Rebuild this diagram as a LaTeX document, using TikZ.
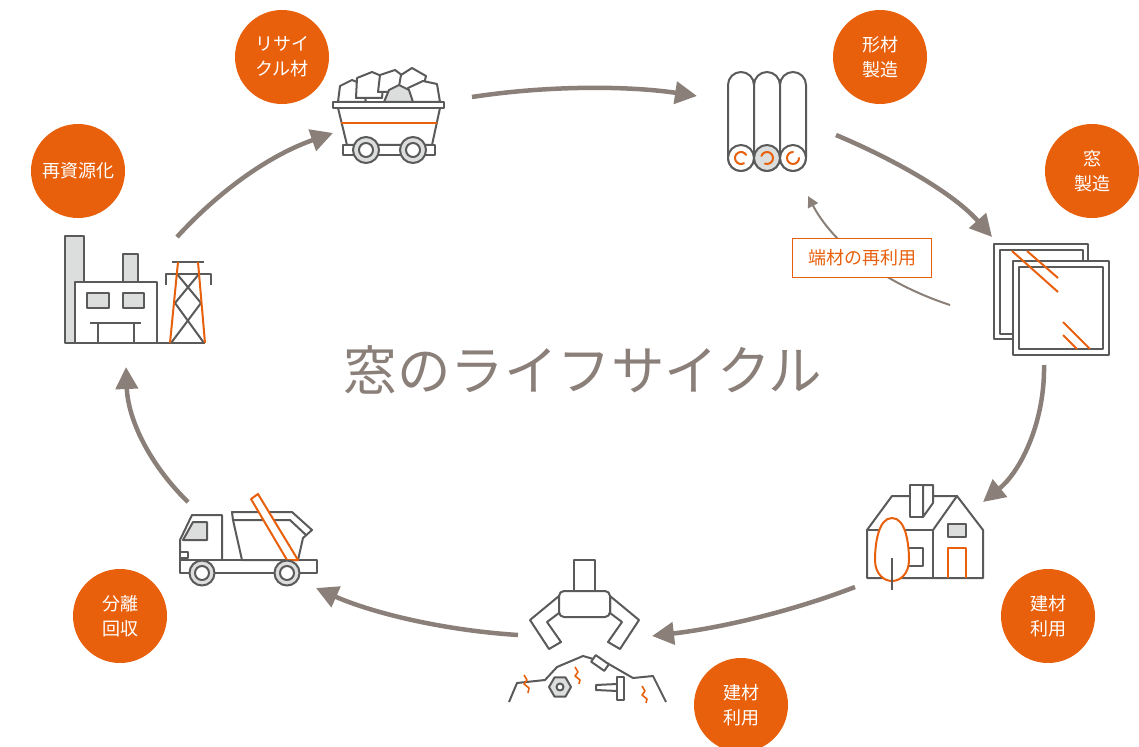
\documentclass[tikz,border=0pt]{standalone}
\usepackage{fontspec}
\newfontfamily\jp{Noto Sans CJK JP}
\usetikzlibrary{arrows.meta}
\definecolor{accent}{HTML}{E8600C}
\definecolor{flow}{HTML}{8B8079}
\definecolor{ink}{HTML}{5A5A5A}
\definecolor{shade}{HTML}{DCDDDD}
\tikzset{
  badge/.style={circle,fill=accent,minimum size=94pt,inner sep=0pt,text=white,
    font=\jp\fontsize{18}{25}\selectfont,align=center},
  cycleflow/.style={draw=flow,line width=4.5pt,-{Triangle[length=22pt,width=22pt]}},
  thinflow/.style={draw=flow,line width=2pt,-{Triangle[length=11pt,width=11pt]}},
  icon/.style={draw=ink,line width=2pt,line join=round},
  hot/.style={draw=accent,line width=2pt,line join=round},
}
\begin{document}
\begin{tikzpicture}[x=1pt,y=-1pt]
\clip (0,0) rectangle (1139,746);
\fill[white] (0,0) rectangle (1139,746);

% ---------- mine cart with scrap ----------
\begin{scope}
  \draw[icon,fill=white] (338,102) -- (340,86) -- (352,80) -- (362,84) -- (366,102) -- cycle;
  \draw[icon,fill=white] (356,98) -- (357,78) -- (372,72) -- (384,77) -- (382,98) -- cycle;
  \draw[icon,fill=white] (378,92) -- (380,75) -- (395,70) -- (403,76) -- (400,92) -- cycle;
  \draw[icon,fill=white] (398,92) -- (401,75) -- (412,68) -- (426,76) -- (422,92) -- cycle;
  \draw[icon,fill=white] (406,102) -- (408,88) -- (423,81) -- (437,84) -- (440,102) -- cycle;
  \draw[icon,fill=shade] (384,102) -- (389,90) -- (399,85) -- (409,90) -- (413,102) -- cycle;
  \draw[icon,fill=white] (338,108) -- (440,108) -- (432,145) -- (347,145) -- cycle;
  \draw[icon,fill=white] (333,102) rectangle (444,108);
  \draw[hot] (341,123) -- (437,123);
  \draw[icon,fill=white] (343,145) rectangle (435,155);
  \foreach \cx in {366,413}{
    \draw[icon,fill=shade] (\cx,150) circle (13);
    \draw[icon,fill=white] (\cx,150) circle (7);
  }
\end{scope}

% ---------- three extruded profiles ----------
\begin{scope}
  \foreach \cx in {741,767,793}{
    \draw[icon,fill=white,rounded corners=13pt] (\cx-13,72) rectangle (\cx+13,171);
  }
  \draw[icon,fill=white] (741,158) circle (13);
  \draw[icon,fill=shade] (767,158) circle (13);
  \draw[icon,fill=white] (793,158) circle (13);
  \draw[hot,line cap=round] (741,158) ++(60:6) arc[start angle=60,end angle=330,radius=6];
  \draw[hot,line cap=round] (767,158) ++(200:6) arc[start angle=200,end angle=470,radius=6];
  \draw[hot,line cap=round] (793,158) ++(0:6) arc[start angle=0,end angle=270,radius=6];
\end{scope}

% ---------- window frames ----------
\begin{scope}
  \draw[icon,fill=white,line width=1.6pt] (994,244) rectangle (1088,339);
  \draw[icon,line width=2.2pt] (1000,250) rectangle (1083,334);
  \draw[icon,fill=white,line width=1.6pt] (1013,261) rectangle (1109,355);
  \draw[icon,line width=2.2pt] (1019,267) rectangle (1103,349);
  \draw[hot] (1012,251) -- (1058,292);
  \draw[hot] (1027,251) -- (1058,278);
  \draw[hot] (1063,322) -- (1090,349);
  \draw[hot] (1063,335) -- (1077,349);
\end{scope}

% ---------- house ----------
\begin{scope}
  \draw[icon,fill=white] (867,530) -- (892,496) -- (957,496) -- (983,530) -- (983,578)
     -- (867,578) -- cycle;
  \draw[icon] (867,530) -- (933,530);
  \draw[icon] (933,530) -- (957,496);
  \draw[icon] (933,530) -- (933,578);
  \draw[icon,fill=white] (910,485) rectangle (923,517);
  \draw[icon,fill=white] (923,485) -- (933,485) -- (933,503) -- (923,517) -- cycle;
  \draw[icon,fill=shade] (948,524) rectangle (966,537);
  \draw[hot] (948,578) -- (948,548) -- (966,548) -- (966,578);
  \draw[icon,fill=white] (905,548) rectangle (923,566);
  \draw[hot,fill=white] (892,518) .. controls (906,518) and (909,545) .. (909,560)
     .. controls (909,574) and (900,581) .. (892,581)
     .. controls (884,581) and (875,574) .. (875,560)
     .. controls (875,545) and (878,518) .. (892,518) -- cycle;
  \draw[icon] (892,558) -- (892,590);
\end{scope}

% ---------- demolition grapple and debris ----------
\begin{scope}
  \draw[icon,fill=white] (574,560) rectangle (595,592);
  \draw[icon,fill=white] (559,596) -- (530,620) -- (549,649) -- (561,642) -- (547,622)
     -- (559,613) -- cycle;
  \draw[icon,fill=white] (610,596) -- (639,620) -- (620,649) -- (608,642) -- (622,622)
     -- (610,613) -- cycle;
  \draw[icon,fill=white,rounded corners=5pt] (559,591) rectangle (610,617);
  \draw[icon] (509,702) -- (517,683) -- (545,680) -- (557,667) -- (583,656) -- (597,660);
  \draw[icon] (607,663) -- (633,678) -- (653,676) -- (666,702);
  \draw[icon,fill=white,rotate around={-35:(600,663)}] (592,659) rectangle (608,667);
  \draw[icon,fill=shade] (560,687) +(0:11) -- +(60:11) -- +(120:11) -- +(180:11)
     -- +(240:11) -- +(300:11) -- cycle;
  \draw[icon,fill=white] (560,687) circle (3.5);
  \draw[icon,fill=white] (596,685) -- (617,684) -- (617,691) -- (596,690) -- cycle;
  \draw[icon,fill=white] (617,677) rectangle (624,700);
  \draw[hot,line width=1.6pt] (524,675) -- (527,680) -- (524,684) -- (529,688) -- (528,693);
  \draw[hot,line width=1.6pt] (575,667) -- (578,672) -- (575,676) -- (580,680) -- (579,684);
  \draw[hot,line width=1.6pt] (642,686) -- (645,691) -- (642,695) -- (647,699) -- (646,703);
\end{scope}

% ---------- skip-loader truck ----------
\begin{scope}
  \draw[icon,fill=white] (180,573) -- (180,540) -- (192,515) -- (222,515) -- (222,560)
     -- (180,560);
  \draw[icon,fill=shade] (183,540) -- (193,522) -- (207,522) -- (207,540) -- cycle;
  \draw[icon,fill=white] (180,552) rectangle (188,558);
  \draw[icon,fill=white] (180,560) rectangle (317,573);
  \draw[icon,fill=white] (232,512) -- (292,512) -- (312,530) -- (303,538) -- (298,560)
     -- (242,560) -- (233,520) -- cycle;
  \draw[icon] (233,520) -- (290,520) -- (306,535);
  \draw[hot,fill=white] (251,499) -- (258,494) -- (298,560) -- (287,560) -- cycle;
  \foreach \cx in {202,287}{
    \draw[icon,fill=shade] (\cx,573) circle (12.5);
    \draw[icon,fill=white] (\cx,573) circle (7);
  }
\end{scope}

% ---------- recycling plant ----------
\begin{scope}
  \draw[icon,fill=shade] (65,236) rectangle (84,343);
  \draw[icon,fill=shade] (123,254) rectangle (138,282);
  \draw[icon,fill=white] (75,282) rectangle (157,343);
  \draw[icon,fill=shade] (87,293) rectangle (109,308);
  \draw[icon,fill=shade] (123,293) rectangle (144,308);
  \draw[icon] (90,323) -- (141,323);
  \draw[icon] (98,323) -- (98,343);
  \draw[icon] (134,323) -- (134,343);
  \draw[icon] (65,343) -- (205,343);
  \draw[icon] (172,262) -- (204,262);
  \draw[icon] (166,285) -- (166,274) -- (211,274) -- (211,285);
  \draw[icon] (177,274) -- (201,303) -- (171,343);
  \draw[icon] (199,274) -- (175,303) -- (204,343);
  \draw[hot] (178,262) -- (170,343);
  \draw[hot] (198,262) -- (205,343);
\end{scope}

% ---------- life-cycle flow ----------
\coordinate (p1) at (472,97);   \coordinate (q1) at (697,96);
\coordinate (p2) at (836,135);  \coordinate (q2) at (992,237);
\coordinate (p3) at (1044,365); \coordinate (q3) at (983,502);
\coordinate (p4) at (855,587);  \coordinate (q4) at (652,636);
\coordinate (p5) at (518,635);  \coordinate (q5) at (316,588);
\coordinate (p6) at (188,502);  \coordinate (q6) at (126,367);
\coordinate (p7) at (177,237);  \coordinate (q7) at (333,133);
\draw[cycleflow] (p1) .. controls (550,85) and (630,86) .. (q1);
\draw[cycleflow] (p2) .. controls (900,162) and (955,195) .. (q2);
\draw[cycleflow] (p3) .. controls (1045,420) and (1022,470) .. (q3);
\draw[cycleflow] (p4) .. controls (790,612) and (720,628) .. (q4);
\draw[cycleflow] (p5) .. controls (440,630) and (370,612) .. (q5);
\draw[cycleflow] (p6) .. controls (150,465) and (128,420) .. (q6);
\draw[cycleflow] (p7) .. controls (220,190) and (270,155) .. (q7);

% offcut reuse loop
\coordinate (r1) at (950,305); \coordinate (r2) at (808,196);
\draw[thinflow] (r1) .. controls (880,282) and (832,242) .. (r2);
\node[draw=accent,fill=white,line width=1.2pt,text=accent,minimum width=139pt,
      minimum height=39pt,inner sep=0pt,font=\jp\fontsize{18}{20}\selectfont]
      (reuse) at (862,258) {端材の再利用};

% ---------- stage badges ----------
\node[badge] (b1) at (282,57) {リサイ\\クル材};
\node[badge] (b2) at (880,57) {形材\\製造};
\node[badge] (b3) at (1092,171) {窓\\製造};
\node[badge] (b4) at (1048,616) {建材\\利用};
\node[badge] (b5) at (741,705) {建材\\利用};
\node[badge] (b6) at (120,616) {分離\\回収};
\node[badge] (b7) at (78,171) {再資源化};

% ---------- title ----------
\node[text=flow,font=\jp\fontsize{53.5}{54}\selectfont] (title) at (583,370)
  {窓のライフサイクル};
\end{tikzpicture}
\end{document}
